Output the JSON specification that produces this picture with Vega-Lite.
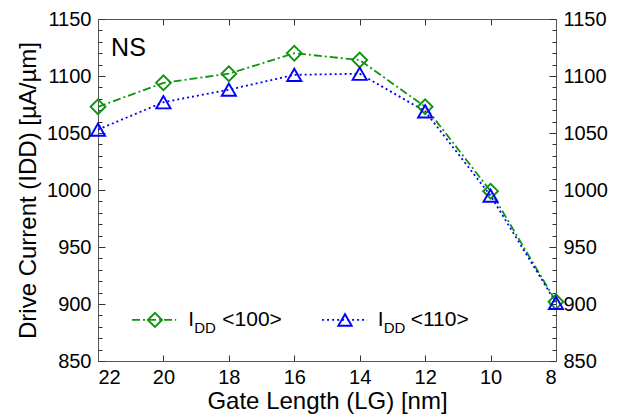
{
  "$schema": "https://vega.github.io/schema/vega-lite/v6.json",
  "width": 458,
  "height": 342,
  "autosize": {"type": "none"},
  "padding": {"left": 98, "top": 19, "right": 71, "bottom": 58},
  "background": "white",
  "config": {
    "view": {"stroke": null},
    "font": "Liberation Sans",
    "axis": {
      "grid": false,
      "domainColor": "#555555",
      "tickColor": "#333333",
      "labelFont": "Liberation Sans",
      "titleFont": "Liberation Sans",
      "labelFontSize": 20,
      "titleFontSize": 24,
      "labelColor": "black",
      "titleColor": "black",
      "titleFontWeight": "normal",
      "format": "d"
    }
  },
  "datasets": {
    "main": [
      {"series": "<100>", "L": 22, "I": 1073},
      {"series": "<100>", "L": 20, "I": 1094},
      {"series": "<100>", "L": 18, "I": 1102},
      {"series": "<100>", "L": 16, "I": 1120},
      {"series": "<100>", "L": 14, "I": 1114},
      {"series": "<100>", "L": 12, "I": 1073},
      {"series": "<100>", "L": 10, "I": 999},
      {"series": "<100>", "L": 8, "I": 902},
      {"series": "<110>", "L": 22, "I": 1053},
      {"series": "<110>", "L": 20, "I": 1077},
      {"series": "<110>", "L": 18, "I": 1088},
      {"series": "<110>", "L": 16, "I": 1101},
      {"series": "<110>", "L": 14, "I": 1102},
      {"series": "<110>", "L": 12, "I": 1069},
      {"series": "<110>", "L": 10, "I": 995},
      {"series": "<110>", "L": 8, "I": 901}
    ],
    "one": [{}]
  },
  "resolve": {"axis": {"x": "independent", "y": "independent"}},
  "layer": [
    {
      "data": {"name": "main"},
      "transform": [{"filter": "datum.series === '<100>'"}],
      "mark": {"type": "line", "color": "#0f940f", "strokeWidth": 1.8, "strokeDash": [8, 3, 2, 3]},
      "encoding": {
        "x": {"field": "L", "type": "quantitative", "scale": {"domain": [8, 22], "reverse": true, "nice": false, "zero": false},
          "axis": {"orient": "bottom", "values": [8, 10, 12, 14, 16, 18, 20, 22], "format": "d", "tickSize": -6, "labelPadding": 12, "title": "Gate Length (LG) [nm]", "titlePadding": 2}},
        "y": {"field": "I", "type": "quantitative", "scale": {"domain": [850, 1150], "nice": false, "zero": false},
          "axis": {"orient": "left", "values": [850, 900, 950, 1000, 1050, 1100, 1150], "format": "d", "tickSize": -7, "labelPadding": 14, "title": "Drive Current (IDD) [µA/µm]", "titlePadding": 6}}
      }
    },
    {
      "data": {"name": "main"},
      "transform": [{"filter": "datum.series === '<110>'"}],
      "mark": {"type": "line", "color": "#0000ff", "strokeWidth": 1.8, "strokeDash": [2, 3]},
      "encoding": {
        "x": {"field": "L", "type": "quantitative",
          "axis": {"orient": "top", "values": [8, 10, 12, 14, 16, 18, 20, 22], "tickSize": -6, "labels": false, "title": null}},
        "y": {"field": "I", "type": "quantitative",
          "axis": {"orient": "right", "values": [850, 900, 950, 1000, 1050, 1100, 1150], "format": "d", "tickSize": -7, "labelPadding": 14, "title": null}}
      }
    },
    {
      "data": {"name": "main"},
      "transform": [{"filter": "datum.series === '<100>'"}],
      "mark": {"type": "point", "shape": "diamond", "size": 220, "filled": false, "color": "#0f940f", "strokeWidth": 1.9, "opacity": 1},
      "encoding": {
        "x": {"field": "L", "type": "quantitative", "axis": null},
        "y": {"field": "I", "type": "quantitative",
          "axis": {"orient": "left", "values": [860, 870, 880, 890, 910, 920, 930, 940, 960, 970, 980, 990, 1010, 1020, 1030, 1040, 1060, 1070, 1080, 1090, 1110, 1120, 1130, 1140], "tickSize": -4, "labels": false, "domain": false, "title": null}}
      }
    },
    {
      "data": {"name": "main"},
      "transform": [{"filter": "datum.series === '<110>'"}],
      "mark": {"type": "point", "shape": "triangle-up", "size": 200, "filled": false, "color": "#0000ff", "strokeWidth": 1.9, "opacity": 1},
      "encoding": {
        "x": {"field": "L", "type": "quantitative", "axis": null},
        "y": {"field": "I", "type": "quantitative",
          "axis": {"orient": "right", "values": [860, 870, 880, 890, 910, 920, 930, 940, 960, 970, 980, 990, 1010, 1020, 1030, 1040, 1060, 1070, 1080, 1090, 1110, 1120, 1130, 1140], "tickSize": -4, "labels": false, "domain": false, "title": null}}
      }
    },
    {
      "data": {"name": "one"},
      "mark": {"type": "text", "text": "NS", "fontSize": 25, "align": "left", "baseline": "middle", "font": "Liberation Sans"},
      "encoding": {"x": {"datum": 21.6, "type": "quantitative", "axis": null}, "y": {"datum": 1125, "type": "quantitative", "axis": null}}
    },
    {
      "data": {"name": "one"},
      "mark": {"type": "rule", "color": "#0f940f", "strokeWidth": 1.8, "strokeDash": [8, 3, 2, 3]},
      "encoding": {"x": {"datum": 20.96, "type": "quantitative", "axis": null}, "x2": {"datum": 19.61}, "y": {"datum": 886, "type": "quantitative", "axis": null}}
    },
    {
      "data": {"name": "one"},
      "mark": {"type": "point", "shape": "diamond", "size": 200, "filled": false, "color": "#0f940f", "strokeWidth": 1.9, "opacity": 1},
      "encoding": {"x": {"datum": 20.26, "type": "quantitative", "axis": null}, "y": {"datum": 886, "type": "quantitative", "axis": null}}
    },
    {
      "data": {"name": "one"},
      "mark": {"type": "rule", "color": "#0000ff", "strokeWidth": 1.8, "strokeDash": [2, 3]},
      "encoding": {"x": {"datum": 15.15, "type": "quantitative", "axis": null}, "x2": {"datum": 13.77}, "y": {"datum": 886, "type": "quantitative", "axis": null}}
    },
    {
      "data": {"name": "one"},
      "mark": {"type": "point", "shape": "triangle-up", "size": 180, "filled": false, "color": "#0000ff", "strokeWidth": 1.9, "opacity": 1},
      "encoding": {"x": {"datum": 14.45, "type": "quantitative", "axis": null}, "y": {"datum": 886, "type": "quantitative", "axis": null}}
    },
    {
      "data": {"name": "one"},
      "mark": {"type": "text", "text": "I", "fontSize": 21, "align": "left", "baseline": "middle"},
      "encoding": {"x": {"datum": 19.24, "type": "quantitative", "axis": null}, "y": {"datum": 886, "type": "quantitative", "axis": null}}
    },
    {
      "data": {"name": "one"},
      "mark": {"type": "text", "text": "DD", "fontSize": 15, "align": "left", "baseline": "middle", "dx": 6, "dy": 8},
      "encoding": {"x": {"datum": 19.24, "type": "quantitative", "axis": null}, "y": {"datum": 886, "type": "quantitative", "axis": null}}
    },
    {
      "data": {"name": "one"},
      "mark": {"type": "text", "text": "<100>", "fontSize": 21, "align": "left", "baseline": "middle", "dx": 34},
      "encoding": {"x": {"datum": 19.24, "type": "quantitative", "axis": null}, "y": {"datum": 886, "type": "quantitative", "axis": null}}
    },
    {
      "data": {"name": "one"},
      "mark": {"type": "text", "text": "I", "fontSize": 21, "align": "left", "baseline": "middle"},
      "encoding": {"x": {"datum": 13.45, "type": "quantitative", "axis": null}, "y": {"datum": 886, "type": "quantitative", "axis": null}}
    },
    {
      "data": {"name": "one"},
      "mark": {"type": "text", "text": "DD", "fontSize": 15, "align": "left", "baseline": "middle", "dx": 6, "dy": 8},
      "encoding": {"x": {"datum": 13.45, "type": "quantitative", "axis": null}, "y": {"datum": 886, "type": "quantitative", "axis": null}}
    },
    {
      "data": {"name": "one"},
      "mark": {"type": "text", "text": "<110>", "fontSize": 21, "align": "left", "baseline": "middle", "dx": 33},
      "encoding": {"x": {"datum": 13.45, "type": "quantitative", "axis": null}, "y": {"datum": 886, "type": "quantitative", "axis": null}}
    }
  ]
}
